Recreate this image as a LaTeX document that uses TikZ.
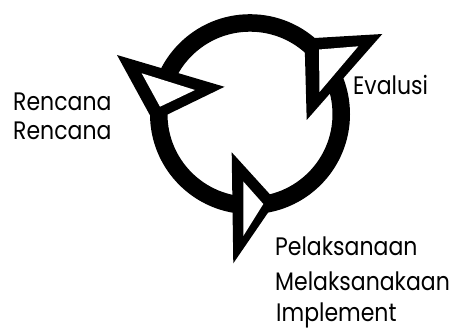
\documentclass[tikz,border=0pt]{standalone}
\usepackage{fontspec}
\setmainfont{Poppins}
\newcommand{\tallt}[1]{\scalebox{1}[1.15]{#1}}
\begin{document}
\begin{tikzpicture}[x=1pt,y=-1pt,
  lbl/.style={anchor=base west, inner sep=0pt, font=\fontsize{22}{26}\selectfont},
  outertri/.style={fill=black},
  innertri/.style={fill=white}]
\useasboundingbox[fill=white] (0,0) rectangle (461,331);
% ring
\draw[line width=17.5pt] (250,114.2) circle (91.25);
% left arrowhead
\fill[outertri] (117,55) -- (224.5,86.8) -- (153.3,121.4) -- cycle;
\fill[innertri] (141.7,73.3) -- (195,90) -- (160,106.7) -- cycle;
% right arrowhead
\fill[outertri] (304.5,38.6) -- (382.3,34) -- (306.7,120) -- cycle;
\fill[innertri] (319,49.5) -- (358.3,46.3) -- (319.5,92) -- cycle;
% bottom arrowhead
\fill[outertri] (231.7,152.3) -- (276,201) -- (233.3,263.3) -- cycle;
\fill[innertri] (243.3,181.5) -- (263.3,204) -- (243.3,236) -- cycle;
% labels
\node[lbl] (r1) at (13,110.7) {\tallt{Rencana}};
\node[lbl] (r2) at (13,140) {\tallt{Rencana}};
\node[lbl] (ev) at (353,95) {\tallt{Evalusi}};
\node[lbl] (p1) at (275,256) {\tallt{Pelaksanaan}};
\node[lbl] (p2) at (275,290.5) {\tallt{Melaksanakaan}};
\node[lbl] (p3) at (276,322) {\tallt{Implement}};
\end{tikzpicture}
\end{document}
